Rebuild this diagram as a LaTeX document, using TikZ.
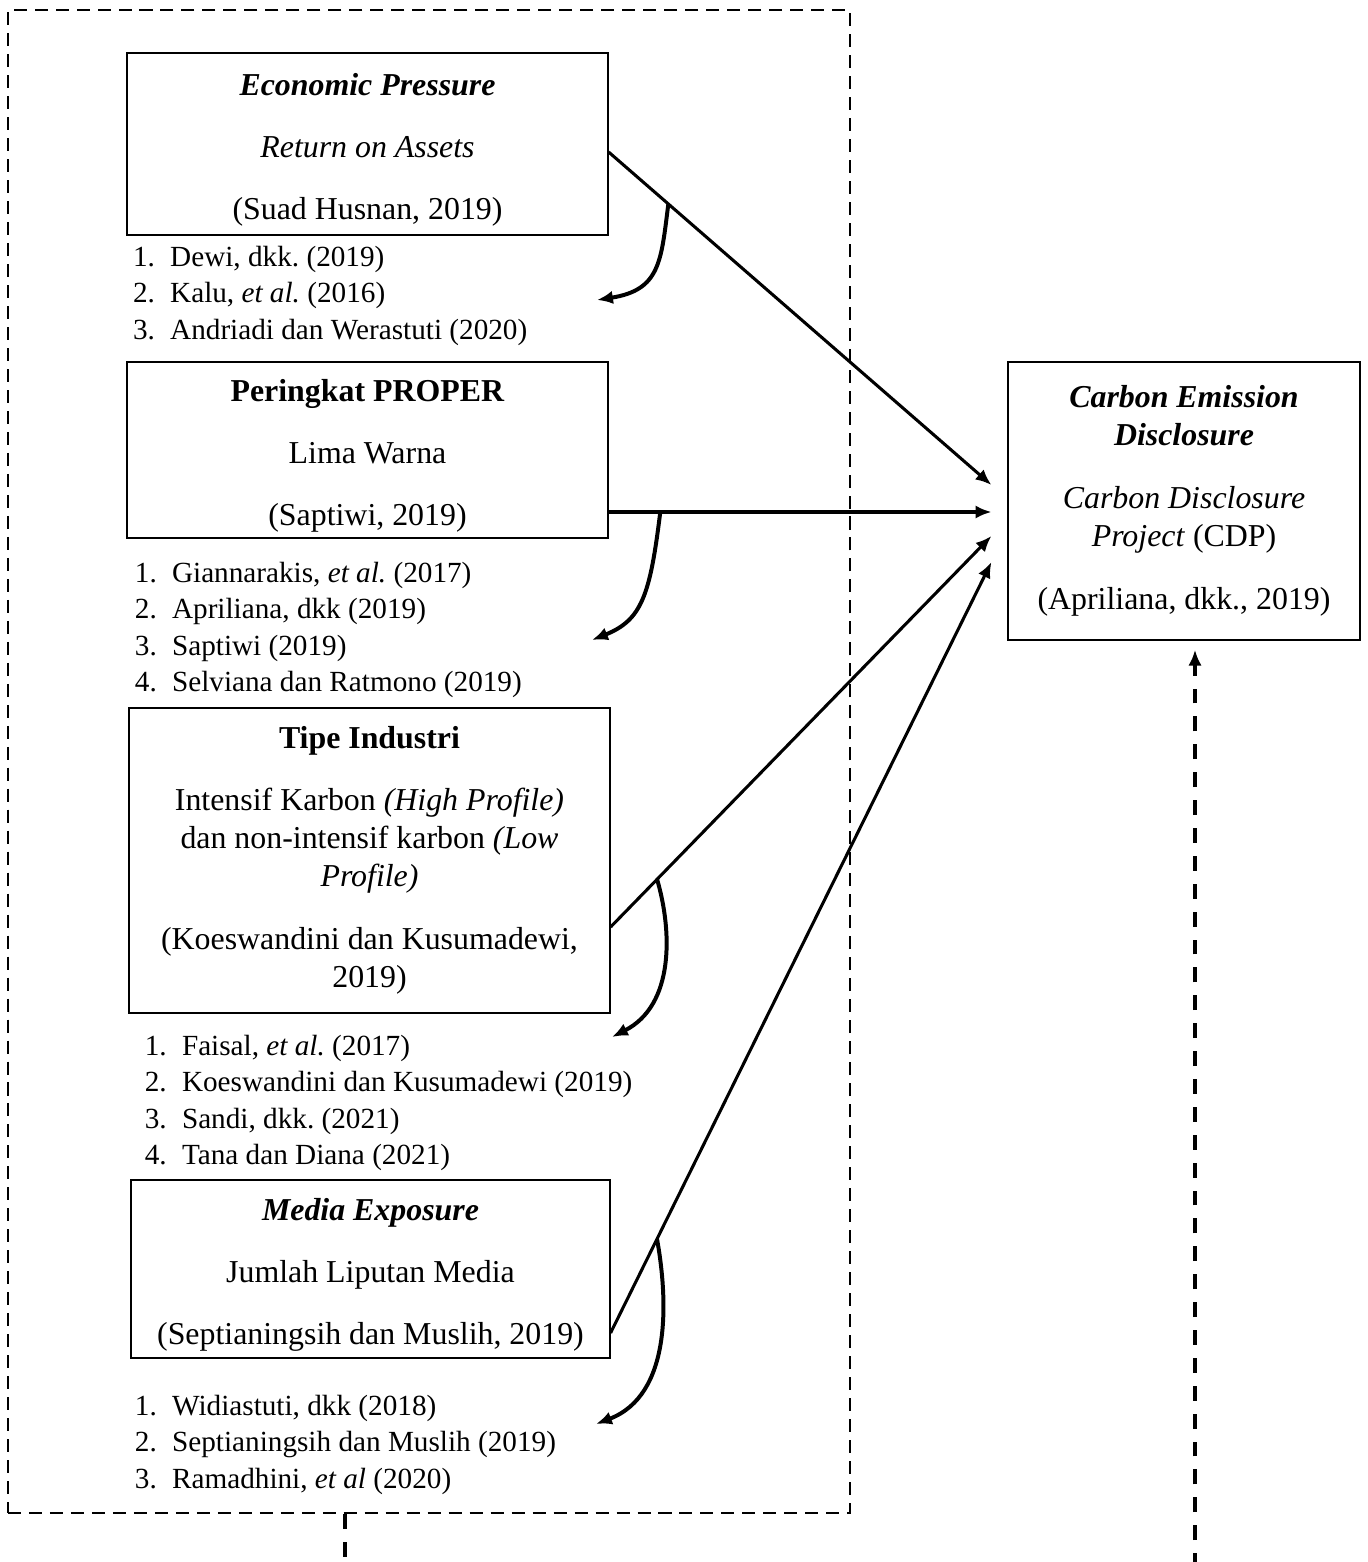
\documentclass[tikz,border=0pt]{standalone}
\usepackage{fontspec}
\setmainfont{Liberation Serif}
\usetikzlibrary{positioning,arrows.meta,calc}
\frenchspacing
\newcommand\refno[1]{\makebox[14pt][l]{#1.}}
\newcommand\toprule{\rule{0pt}{12.8pt}}

\begin{document}
\begin{tikzpicture}[x=0.3765pt,y=-0.3765pt,>={Latex[length=6pt,width=5pt]},
  varbox/.style={draw,line width=0.45pt,align=center,inner sep=0pt,font=\fontsize{12}{14.3}\selectfont},
  refs/.style={align=left,inner sep=0pt,font=\fontsize{11}{13.7}\selectfont},
  dashbox/.style={draw,line width=0.8pt,dash pattern=on 4.9pt off 3pt,inner sep=0pt},
  link/.style={->,line width=1.15pt},
  turn/.style={->,line width=1.5pt},
  back/.style={->,line width=1.5pt,dash pattern=on 5.6pt off 4.9pt}]
  \useasboundingbox (0,0) rectangle (1368,1562);
  % dashed frame round the independent variables
  \node[dashbox,minimum width=317pt,minimum height=565.9pt] (fr) at (429,761.5) {};
  % independent variables with their references
  \node[varbox,minimum width=181.1pt,minimum height=68.5pt] (ep) at (367.5,144)
    {\toprule\textbf{\textit{Economic Pressure}}\\[9pt] \textit{Return on Assets}\\[9pt] (Suad Husnan, 2019)};
  \node[refs,below=3.8pt of ep.south west,anchor=north west,xshift=2.3pt] (ep-refs)
    {\refno{1}Dewi, dkk. (2019)\\ \refno{2}Kalu, \textit{et al.} (2016)\\ \refno{3}Andriadi dan Werastuti (2020)};
  \node[varbox,minimum width=181.1pt,minimum height=66.3pt] (pr) at (367.5,450)
    {\toprule\textbf{Peringkat PROPER}\\[9pt] Lima Warna\\[9pt] (Saptiwi, 2019)};
  \node[refs,below=8.7pt of pr.south west,anchor=north west,xshift=3pt] (pr-refs)
    {\refno{1}Giannarakis, \textit{et al.} (2017)\\ \refno{2}Apriliana, dkk (2019)\\ \refno{3}Saptiwi (2019)\\ \refno{4}Selviana dan Ratmono (2019)};
  \node[varbox,minimum width=181.1pt,minimum height=114.8pt] (ti) at (369.5,860.5)
    {\textbf{Tipe Industri}\\[9pt] Intensif Karbon \textit{(High Profile)}\\ dan non-intensif karbon \textit{(Low}\\ \textit{Profile)}\\[9.5pt] (Koeswandini dan Kusumadewi,\\ 2019)};
  \node[refs,below=7.9pt of ti.south west,anchor=north west,xshift=6pt] (ti-refs)
    {\refno{1}Faisal, \textit{et al.} (2017)\\ \refno{2}Koeswandini dan Kusumadewi (2019)\\ \refno{3}Sandi, dkk. (2021)\\ \refno{4}Tana dan Diana (2021)};
  \node[varbox,minimum width=180.3pt,minimum height=67pt] (me) at (370.5,1269)
    {\toprule\textbf{\textit{Media Exposure}}\\[9pt] Jumlah Liputan Media\\[9pt] (Septianingsih dan Muslih, 2019)};
  \node[refs,below=13.6pt of me.south west,anchor=north west,xshift=1.5pt] (me-refs)
    {\refno{1}Widiastuti, dkk (2018)\\ \refno{2}Septianingsih dan Muslih (2019)\\ \refno{3}Ramadhini, \textit{et al} (2020)};
  % dependent variable
  \node[varbox,minimum width=132.5pt,minimum height=104.7pt] (ced) at (1184,501)
    {\textbf{\textit{Carbon Emission}}\\ \textbf{\textit{Disclosure}}\\[9.5pt] \textit{Carbon Disclosure}\\ \textit{Project} (CDP)\\[9.5pt] (Apriliana, dkk., 2019)};
  % end points of the connectors
  \coordinate (ep-out) at ($(ep.east)+(0,8)$);
  \coordinate (pr-out) at ($(pr.east)+(0,62)$);
  \coordinate (ti-out) at ($(ti.east)+(0,66.5)$);
  \coordinate (me-out) at ($(me.east)+(0,64)$);
  \coordinate (ced-in1) at ($(ced.west)+(-16,-16)$);
  \coordinate (ced-in2) at ($(ced.west)+(-16,11)$);
  \coordinate (ced-in3) at ($(ced.west)+(-16,35)$);
  \coordinate (ced-in4) at ($(ced.west)+(-16,61)$);
  \coordinate (ep-tip) at (597,300);
  \coordinate (pr-tip) at (592,640);
  \coordinate (ti-tip) at (612,1037);
  \coordinate (me-tip) at (596,1424);
  \coordinate (fr-out) at ($(fr.south)+(-84,0)$);
  \coordinate (ced-back) at ($(ced.south)+(11,9)$);
  % influence arrows
  \draw[link] (ep-out) -- coordinate[pos=.156] (ep-turn) (ced-in1);
  \draw[link] (pr-out) -- coordinate[pos=.135] (pr-turn) (ced-in2);
  \draw[link] (ti-out) -- coordinate[pos=.122] (ti-turn) (ced-in3);
  \draw[link] (me-out) -- coordinate[pos=.122] (me-turn) (ced-in4);
  % curved arrows to the reference lists
  \draw[turn] (ep-turn) .. controls (661,262) and (660,290) .. (ep-tip);
  \draw[turn] (pr-turn) .. controls (650,595) and (642,620) .. (pr-tip);
  \draw[turn] (ti-turn) .. controls (672,930) and (675,1005) .. (ti-tip);
  \draw[turn] (me-turn) .. controls (668,1300) and (672,1395) .. (me-tip);
  % feedback from the frame
  \draw[back] (fr-out) -- ++(0,90) -| (ced-back);
\end{tikzpicture}
\end{document}
